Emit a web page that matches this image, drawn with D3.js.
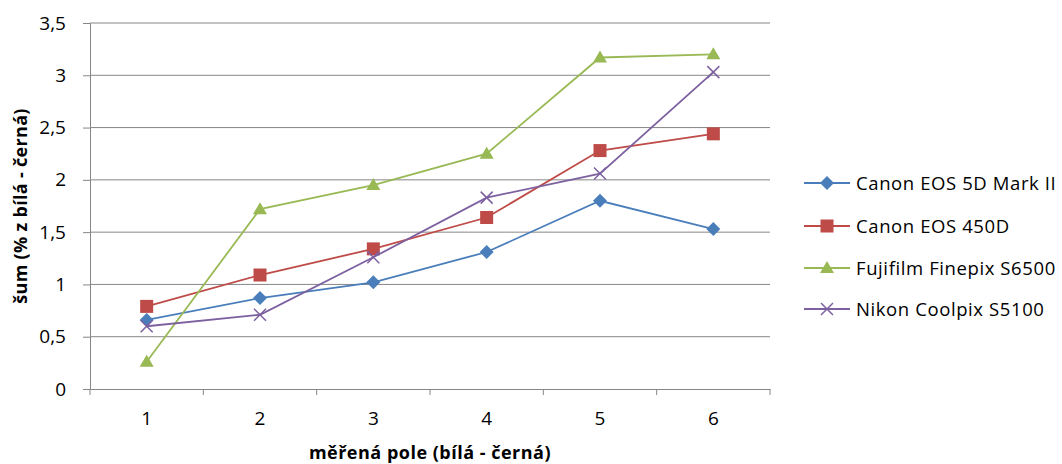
<!DOCTYPE html>
<html>
<head>
<meta charset="utf-8">
<script src="https://cdn.jsdelivr.net/npm/d3@7"></script>
<style>
  body { margin: 0; background: #fff; }
  svg text { font-family: "Open Sans", "Noto Sans", sans-serif; fill: #000; }
</style>
</head>
<body>
<svg id="chart" width="1062" height="464"></svg>
<script>
const categories = ['1', '2', '3', '4', '5', '6']
const yTicks = [0, 0.5, 1, 1.5, 2, 2.5, 3, 3.5]

const canon5d = [0.66, 0.87, 1.02, 1.31, 1.80, 1.53]
const canon450d = [0.79, 1.09, 1.34, 1.64, 2.28, 2.44]
const fujifilm = [0.26, 1.72, 1.95, 2.25, 3.17, 3.20]
const nikon = [0.60, 0.71, 1.26, 1.83, 2.06, 3.03]

const seriesNames = ['Canon EOS 5D Mark II', 'Canon EOS 450D', 'Fujifilm Finepix S6500', 'Nikon Coolpix S5100']
const seriesValues = [canon5d, canon450d, fujifilm, nikon]
const seriesColors = ['#4A7EBB', '#BE4B48', '#98B954', '#7D60A0']
const seriesMarkers = ['diamond', 'square', 'triangle', 'cross']

const svg = d3.select('#chart')
const plot = {left: 90, right: 770, top: 23, bottom: 389}
const fontSize = '18px'
const tickFontSize = '19px'

const x = d3.scaleBand().domain(categories).range([plot.left, plot.right])
const y = d3.scaleLinear().domain([0, 3.5]).range([plot.bottom, plot.top])

// gridlines
svg.append('g')
    .selectAll('line')
    .data(yTicks.filter(d => d > 0))
    .enter()
    .append('line')
    .attr('x1', plot.left)
    .attr('x2', plot.right)
    .attr('y1', d => y(d))
    .attr('y2', d => y(d))
    .style('stroke', '#868686')
    .style('stroke-width', 1)

// y axis
const yAxis = svg.append('g')
    .attr('transform', 'translate(' + plot.left + ',0)')
    .call(d3.axisLeft(y).tickValues(yTicks).tickSize(7).tickPadding(17)
        .tickFormat(d => String(d).replace('.', ',')))
yAxis.selectAll('line, path').style('stroke', '#868686')
yAxis.selectAll('text').style('font-size', tickFontSize).style('font-family', '"Open Sans", sans-serif')

// x axis
const xAxis = svg.append('g')
    .attr('transform', 'translate(0,' + plot.bottom + ')')
    .call(d3.axisBottom(x).tickSize(0).tickPadding(23))
xAxis.select('path').style('stroke', '#868686')
xAxis.selectAll('text').style('font-size', tickFontSize).style('font-family', '"Open Sans", sans-serif')

const bounds = categories.map(c => x(c)).concat([plot.right])
svg.append('g')
    .selectAll('line')
    .data(bounds)
    .enter()
    .append('line')
    .attr('x1', d => d)
    .attr('x2', d => d)
    .attr('y1', plot.bottom)
    .attr('y2', plot.bottom + 6)
    .style('stroke', '#868686')

const cx = c => x(c) + x.bandwidth() / 2

function drawMarker(g, type, color) {
    if (type == 'diamond') {
        g.append('path').attr('d', 'M0,-7L7,0L0,7L-7,0Z').style('fill', color)
    } else if (type == 'square') {
        g.append('rect').attr('x', -6.5).attr('y', -6.5).attr('width', 13).attr('height', 13).style('fill', color)
    } else if (type == 'triangle') {
        g.append('path').attr('d', 'M0,-7L7,5L-7,5Z').style('fill', color)
    } else {
        g.append('path').attr('d', 'M-6,-6L6,6M-6,6L6,-6').style('stroke', color).style('stroke-width', 1.5).style('fill', 'none')
    }
}

// series
const line = d3.line().x((d, i) => cx(categories[i])).y(d => y(d))
seriesValues.forEach(function(vals, s) {
    svg.append('path')
        .datum(vals)
        .attr('d', line)
        .style('fill', 'none')
        .style('stroke', seriesColors[s])
        .style('stroke-width', 1.8)
    vals.forEach(function(v, i) {
        const g = svg.append('g').attr('transform', 'translate(' + cx(categories[i]) + ',' + y(v) + ')')
        drawMarker(g, seriesMarkers[s], seriesColors[s])
    })
})

// legend
const legendY = [183, 226, 268, 309]
seriesNames.forEach(function(name, s) {
    const lg = svg.append('g').attr('transform', 'translate(804,' + legendY[s] + ')')
    lg.append('line').attr('x1', 0).attr('x2', 46).attr('y1', 0).attr('y2', 0)
        .style('stroke', seriesColors[s]).style('stroke-width', 1.8)
    drawMarker(lg.append('g').attr('transform', 'translate(23,0)'), seriesMarkers[s], seriesColors[s])
    lg.append('text').attr('x', 52).attr('y', 6.5)
        .style('font-size', '18.5px')
        .style('letter-spacing', '0.6px')
        .text(name)
})

// axis titles
svg.append('text')
    .attr('x', (plot.left + plot.right) / 2)
    .attr('y', 459)
    .attr('text-anchor', 'middle')
    .style('font-size', fontSize)
    .style('font-weight', 'bold')
    .style('letter-spacing', '0.5px')
    .text('měřená pole (bílá - černá)')

svg.append('text')
    .attr('transform', 'translate(27,' + (plot.top + plot.bottom) / 2 + ') rotate(-90)')
    .attr('text-anchor', 'middle')
    .style('font-size', fontSize)
    .style('font-weight', 'bold')
    .style('letter-spacing', '0.3px')
    .text('šum (% z bílá - černá)')
</script>
</body>
</html>
